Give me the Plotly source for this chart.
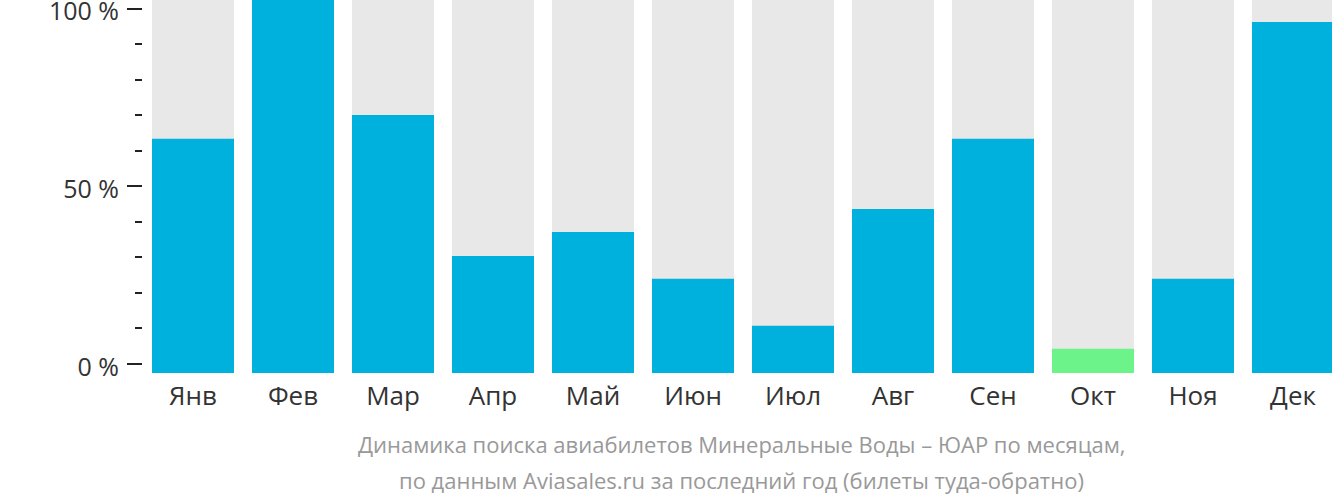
import plotly.graph_objects as go

months = ["Янв", "Фев", "Мар", "Апр", "Май", "Июн", "Июл", "Авг", "Сен", "Окт", "Ноя", "Дек"]
values = [62.8, 100, 69.2, 31.4, 37.8, 25.3, 12.7, 44.0, 62.8, 6.5, 25.3, 94.1]
background = [100] * len(months)
tick_vals = [0, 50, 100]
tick_text = ["0 %", "50 %", "100 %"]
minor_vals = [10, 20, 30, 40, 60, 70, 80, 90]
title_lines = [
    "Динамика поиска авиабилетов Минеральные Воды – ЮАР по месяцам,",
    "по данным Aviasales.ru за последний год (билеты туда-обратно)",
]

BLUE = "#00B1DD"
GREEN = "#6CF38A"
GREY = "#E8E8E8"
min_v = min(values)
bar_colors = [GREEN if v == min_v else BLUE for v in values]

fig = go.Figure()
fig.add_trace(go.Bar(x=months, y=background, marker=dict(color=GREY, line=dict(width=0)),
                     hoverinfo="skip", showlegend=False))
fig.add_trace(go.Bar(x=months, y=values, marker=dict(color=bar_colors, line=dict(width=0)),
                     showlegend=False))
fig.add_trace(go.Scatter(x=[months[0]], y=[None], yaxis="y2", mode="markers",
                         showlegend=False, hoverinfo="skip"))

FONT = "Open Sans"
fig.update_layout(
    width=1332, height=502,
    margin=dict(l=143, r=0, t=0, b=129, pad=0, autoexpand=False),
    paper_bgcolor="white", plot_bgcolor="white",
    barmode="overlay", bargap=0.18,
    xaxis=dict(range=[-0.5, 11.39], showgrid=False, zeroline=False, showline=False,
               ticks="", tickfont=dict(family=FONT, size=26, color="#333333"),
               ticklabelstandoff=5, fixedrange=True, automargin=False),
    yaxis=dict(range=[0, 100], showgrid=False, zeroline=False, showline=False,
               showticklabels=False, ticks="", automargin=False),
    yaxis2=dict(overlaying="y", side="left", anchor="x", range=[-2.53, 102.45],
                showgrid=False, zeroline=False, showline=False, automargin=False,
                tickmode="array", tickvals=tick_vals, ticktext=tick_text,
                ticks="outside", ticklen=15, tickwidth=2, tickcolor="#222222",
                ticklabelstandoff=3, ticklabelshift=3, ticklabeloverflow="allow",
                tickfont=dict(family=FONT, size=25, color="#333333"),
                minor=dict(tickmode="array", tickvals=minor_vals, ticks="outside",
                           ticklen=7, tickwidth=2, tickcolor="#222222")),
    font=dict(family=FONT),
)
for i, (line, ypos) in enumerate(zip(title_lines, [-0.19, -0.286])):
    fig.add_annotation(text=line, xref="paper", yref="paper", x=0.503, y=ypos,
                       xanchor="center", yanchor="middle", showarrow=False,
                       font=dict(family=FONT, size=22, color="#999999"))

fig.write_html("out.html")
